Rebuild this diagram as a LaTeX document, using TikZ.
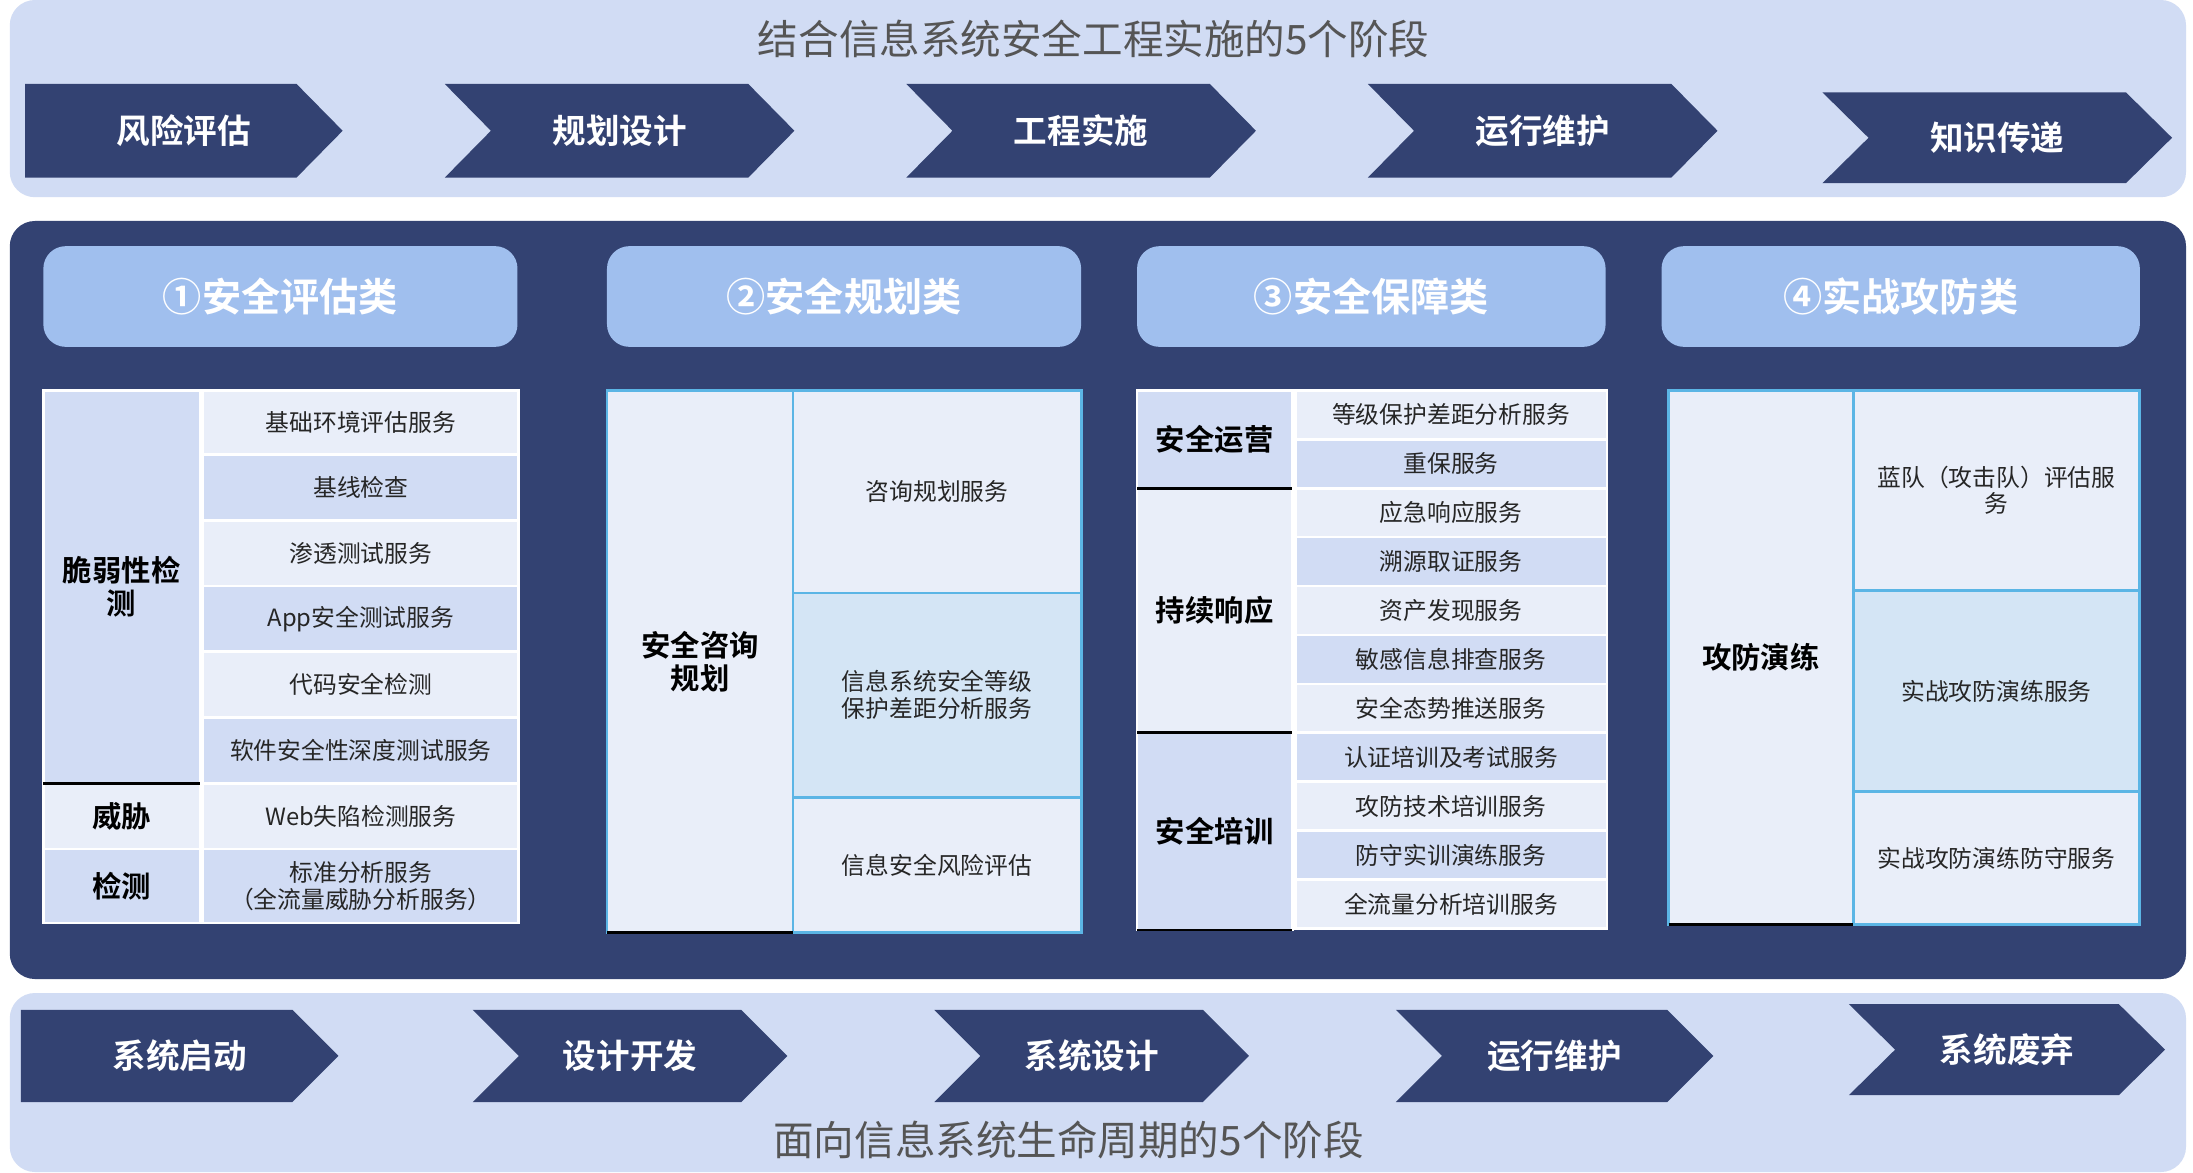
\documentclass[tikz,border=0pt]{standalone}
\usepackage{fontspec}
\setmainfont{Noto Sans CJK SC}[BoldFont={Noto Sans CJK SC Bold}]
\definecolor{band}{HTML}{D1DCF4}
\definecolor{navy}{HTML}{334272}
\definecolor{pill}{HTML}{A0BFEE}
\definecolor{lt}{HTML}{E9EEF9}
\definecolor{md}{HTML}{D1DCF4}
\definecolor{sky}{HTML}{D4E5F5}
\definecolor{bl}{HTML}{5BB5E5}
\definecolor{ttl}{HTML}{555555}
\tikzset{
  chevtxt/.style={text=white,font=\fontsize{24}{26}\selectfont\bfseries},
  pilltxt/.style={text=white,font=\fontsize{28}{30}\selectfont\bfseries},
  celltxt/.style={text=black!85,font=\fontsize{17}{19}\selectfont,align=center},
  grptxt/.style={text=black,font=\fontsize{21}{24}\selectfont\bfseries,align=center},
}
% chevron: #1 x1, #2 x2, #3 ytop, #4 ybot, #5 notch(0/33), #6 name, #7 text
\newcommand{\chev}[7]{%
  \fill[navy] (#1,#3) -- ({#2-33},#3) -- (#2,{(#3+#4)/2}) -- ({#2-33},#4) -- (#1,#4) -- ({#1+#5},{(#3+#4)/2}) -- cycle;
  \node[chevtxt] (#6) at ({(#1+#2)/2},{(#3+#4)/2}) {#7};}
% cell: x1 y1 x2 y2 fill border name text style
\newcommand{\cellbox}[9]{%
  \fill[#5] (#1,#2) rectangle (#3,#4);
  \draw[#6,line width=2pt] (#1,#2) rectangle (#3,#4);
  \node[#9] (#7) at ({(#1+#3)/2},{(#2+#4)/2}) {#8};}
\begin{document}
\begin{tikzpicture}[x=1pt,y=-1pt]
\useasboundingbox (0,0) rectangle (1568,838);
\fill[white] (0,0) rectangle (1568,838);
% top band
\fill[band,rounded corners=18pt] (7,0) rectangle (1563,141);
\node[text=ttl,font=\fontsize{29}{31}\selectfont] (toptitle) at (782,28) {结合信息系统安全工程实施的5个阶段};
\chev{18}{245}{60}{127}{0}{t1}{风险评估}
\chev{318}{568}{60}{127}{33}{t2}{规划设计}
\chev{648}{898}{60}{127}{33}{t3}{工程实施}
\chev{978}{1228}{60}{127}{33}{t4}{运行维护}
\chev{1303}{1553}{66}{131}{33}{t5}{知识传递}
% panel
\fill[navy,rounded corners=18pt] (7,158) rectangle (1563,700);
\foreach \a/\b/\t/\n in {31/370/①安全评估类/h1,434/773/②安全规划类/h2,813/1148/③安全保障类/h3,1188/1530/④实战攻防类/h4}{
  \fill[pill,rounded corners=16pt] (\a,176) rectangle (\b,248);
  \node[pilltxt] (\n) at ({(\a+\b)/2},212) {\t};}
% table 1
\cellbox{31}{279}{143}{560}{md}{white}{g1}{脆弱性检\\测}{grptxt}
\cellbox{31}{560}{143}{607}{lt}{white}{g2}{威胁}{grptxt}
\cellbox{31}{607}{143}{660}{md}{white}{g3}{检测}{grptxt}
\draw[black,line width=2pt] (31,560) -- (143,560);
\cellbox{145}{279}{371}{325}{lt}{white}{c11}{基础环境评估服务}{celltxt}
\cellbox{145}{325}{371}{372}{md}{white}{c12}{基线检查}{celltxt}
\cellbox{145}{372}{371}{419}{lt}{white}{c13}{渗透测试服务}{celltxt}
\cellbox{145}{419}{371}{466}{md}{white}{c14}{App安全测试服务}{celltxt}
\cellbox{145}{466}{371}{513}{lt}{white}{c15}{代码安全检测}{celltxt}
\cellbox{145}{513}{371}{560}{md}{white}{c16}{软件安全性深度测试服务}{celltxt}
\cellbox{145}{560}{371}{607}{lt}{white}{c17}{Web失陷检测服务}{celltxt}
\cellbox{145}{607}{371}{660}{md}{white}{c18}{标准分析服务\\（全流量威胁分析服务）}{celltxt}
% table 2
\cellbox{434}{279}{567}{667}{lt}{bl}{g4}{安全咨询\\规划}{grptxt}
\cellbox{567}{279}{773}{424}{lt}{bl}{c21}{咨询规划服务}{celltxt}
\cellbox{567}{424}{773}{570}{sky}{bl}{c22}{信息系统安全等级\\保护差距分析服务}{celltxt}
\cellbox{567}{570}{773}{667}{lt}{bl}{c23}{信息安全风险评估}{celltxt}
\draw[black,line width=2pt] (434,667) -- (567,667);
% table 3
\cellbox{813}{279}{924}{349}{md}{white}{g5}{安全运营}{grptxt}
\cellbox{813}{349}{924}{524}{lt}{white}{g6}{持续响应}{grptxt}
\cellbox{813}{524}{924}{665}{md}{white}{g7}{安全培训}{grptxt}
\draw[black,line width=2pt] (813,349) -- (924,349) (813,524) -- (924,524) (813,665) -- (924,665);
\foreach \i/\t in {0/等级保护差距分析服务,1/重保服务,2/应急响应服务,3/溯源取证服务,4/资产发现服务,5/敏感信息排查服务,6/安全态势推送服务,7/认证培训及考试服务,8/攻防技术培训服务,9/防守实训演练服务,10/全流量分析培训服务}{
  \pgfmathtruncatemacro{\odd}{mod(\i,2)}
  \ifnum\odd=0 \def\cc{lt}\else\def\cc{md}\fi
  \cellbox{926}{279+35*\i}{1149}{314+35*\i}{\cc}{white}{c3\i}{\t}{celltxt}}
% table 4
\cellbox{1193}{279}{1325}{661}{lt}{bl}{g8}{攻防演练}{grptxt}
\cellbox{1325}{279}{1530}{422}{lt}{bl}{c41}{蓝队（攻击队）评估服\\务}{celltxt}
\cellbox{1325}{422}{1530}{566}{sky}{bl}{c42}{实战攻防演练服务}{celltxt}
\cellbox{1325}{566}{1530}{661}{lt}{bl}{c43}{实战攻防演练防守服务}{celltxt}
\draw[black,line width=2pt] (1193,661) -- (1325,661);
% bottom band
\fill[band,rounded corners=18pt] (7,710) rectangle (1563,838);
\chev{15}{242}{722}{788}{0}{b1}{系统启动}
\chev{338}{563}{722}{788}{33}{b2}{设计开发}
\chev{668}{893}{722}{788}{33}{b3}{系统设计}
\chev{998}{1225}{722}{788}{33}{b4}{运行维护}
\chev{1322}{1548}{718}{783}{33}{b5}{系统废弃}
\node[text=ttl,font=\fontsize{29}{31}\selectfont] (bottitle) at (764,815) {面向信息系统生命周期的5个阶段};
\end{tikzpicture}
\end{document}
